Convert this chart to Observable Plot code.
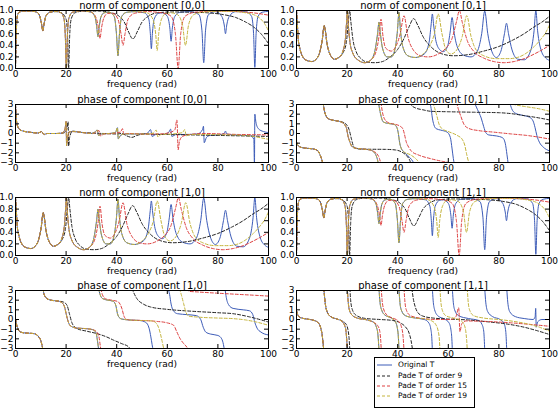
<!DOCTYPE html>
<html><head><meta charset="utf-8">
<script src="https://cdn.jsdelivr.net/npm/d3@7"></script>
<script src="https://cdn.jsdelivr.net/npm/@observablehq/plot@0.6"></script>
<style>
body{margin:0;background:#fff;}
#chart{position:relative;width:559px;height:408px;font-family:"DejaVu Sans",sans-serif;overflow:hidden;background:#fff;}
#chart svg.panel{position:absolute;}
#legend{position:absolute;left:374px;top:357px;width:101px;height:51px;box-sizing:border-box;border:1px solid #000;background:#fff;font-family:"DejaVu Sans",sans-serif;font-size:7.5px;}
#legend .row{position:absolute;left:2px;height:10px;display:flex;align-items:center;}
#legend .row span{margin-left:6px;white-space:nowrap;line-height:10px;}
</style></head><body><div id="chart"></div>
<script>
const xTicks=[0,20,40,60,80,100];
const normTicks=[0,0.2,0.4,0.6,0.8,1.0];
const phaseTicks=[-3,-2,-1,0,1,2,3];
const titles=["norm of component [0,0]","norm of component [0,1]","phase of component [0,0]","phase of component [0,1]","norm of component [1,0]","norm of component [1,1]","phase of component [1,0]","phase of component [1,1]"];
const xLabel="frequency (rad)";
const seriesNames=["Original T","Pade T of order 9","Pade T of order 15","Pade T of order 19"];
const seriesColors=["#3d5cb8","#222222","#dd4040","#c4b43c"];
const seriesDash=[null,"3,2","3,2","3,2"];

// ---- norm [0,0] (also [1,1]) ----
const norm00Orig=[[0,0],[0.3,0.6],[0.7,0.9],[1.5,0.97],[3,0.99],[6,0.99],[8.5,0.97],[9.6,0.9],[10.3,0.77],[10.8,0.65],[11.3,0.77],[12,0.9],[13.5,0.97],[16,0.985],[18,0.96],[19.2,0.85],[19.7,0.55],[20.1,0],[20.5,0.55],[21,0.85],[22.5,0.97],[26,0.995],[30,0.97],[31.5,0.88],[32.1,0.72],[32.6,0.55],[33.1,0.72],[33.7,0.88],[35,0.96],[37,0.97],[39,0.9],[39.9,0.6],[40.5,0.22],[41.1,0.6],[42,0.9],[44,0.97],[47,0.98],[51,0.96],[52.7,0.85],[53.3,0.6],[53.7,0.34],[54.1,0.6],[54.8,0.85],[56.5,0.95],[58,0.96],[60,0.9],[61,0.7],[61.5,0.47],[62,0.7],[63,0.9],[65,0.97],[69,0.98],[72.5,0.93],[73.7,0.65],[74.4,0.1],[75.1,0.65],[76.3,0.93],[79,0.98],[81.5,0.9],[82.5,0.75],[83,0.6],[83.5,0.75],[84.5,0.9],[87,0.98],[91,0.98],[93.3,0.9],[94.1,0.6],[94.6,0.02],[95.1,0.6],[95.9,0.9],[97.5,0.97],[100,0.985]];
const norm00P9=[[0,0],[0.3,0.6],[0.7,0.9],[1.5,0.97],[3,0.99],[6,0.99],[8.5,0.97],[9.6,0.9],[10.3,0.77],[10.8,0.65],[11.3,0.77],[12,0.9],[13.5,0.97],[16,0.98],[18.5,0.95],[20,0.85],[20.6,0.55],[21,0],[21.4,0.55],[22,0.85],[23.5,0.96],[27,0.99],[33,0.99],[38,0.96],[41,0.9],[43,0.8],[44.5,0.65],[46.4,0.51],[48.3,0.65],[50,0.8],[52.5,0.9],[56,0.96],[62,0.975],[70,0.97],[76,0.96],[82,0.93],[87,0.88],[91,0.8],[94,0.72],[97,0.6],[100,0.43]];
const norm00P15=[[0,0],[0.3,0.6],[0.7,0.9],[1.5,0.97],[3,0.99],[6,0.99],[8.5,0.97],[9.6,0.9],[10.3,0.77],[10.8,0.65],[11.3,0.77],[12,0.9],[13.5,0.97],[16,0.985],[18,0.96],[19.2,0.85],[19.7,0.55],[20.1,0],[20.5,0.55],[21,0.85],[22.5,0.97],[26,0.995],[30,0.97],[31.8,0.88],[32.8,0.7],[33.4,0.52],[34,0.7],[35,0.88],[36.5,0.95],[38.5,0.95],[40.5,0.85],[41.7,0.6],[42.5,0.4],[43.3,0.6],[44.5,0.85],[47,0.95],[52,0.98],[58,0.96],[61.5,0.9],[63.2,0.6],[64.3,0],[65.3,0.6],[67,0.9],[71,0.97],[80,0.99],[88,0.98],[94,0.96],[100,0.92]];
const norm00P19=[[0,0],[0.3,0.6],[0.7,0.9],[1.5,0.97],[3,0.99],[6,0.99],[8.5,0.97],[9.6,0.9],[10.3,0.77],[10.8,0.65],[11.3,0.77],[12,0.9],[13.5,0.97],[16,0.985],[18,0.96],[19.2,0.85],[19.7,0.55],[20.1,0],[20.5,0.55],[21,0.85],[22.5,0.97],[26,0.995],[30,0.97],[31.5,0.88],[32.1,0.72],[32.6,0.55],[33.1,0.72],[33.7,0.88],[35,0.96],[37,0.97],[39,0.9],[39.9,0.6],[40.5,0.22],[41.1,0.6],[42,0.9],[44,0.97],[48,0.98],[52,0.96],[54.3,0.85],[55.4,0.6],[56,0.31],[56.6,0.6],[57.7,0.85],[59.5,0.95],[61.5,0.96],[64,0.93],[66,0.75],[67.2,0.4],[68.4,0.75],[70.5,0.93],[74,0.97],[80,0.985],[86,0.985],[91,0.96],[94,0.93],[96.5,0.87],[98.5,0.77],[100,0.65]];

// ---- norm [0,1] (also [1,0]) ----
const norm01Orig=[[0,1],[0.3,0.8],[0.7,0.5],[1.3,0.35],[2.5,0.2],[4,0.14],[6,0.12],[8,0.17],[9.3,0.3],[10.2,0.5],[10.8,0.72],[11,0.74],[11.3,0.68],[12,0.45],[13,0.27],[15,0.16],[17,0.2],[18.5,0.32],[19.4,0.55],[19.8,0.8],[20.1,1],[20.4,0.8],[21,0.5],[22.2,0.27],[24.5,0.14],[27,0.1],[29.5,0.15],[31.2,0.35],[32.1,0.62],[32.6,0.8],[33.1,0.62],[34,0.35],[35.8,0.2],[37.5,0.2],[39,0.35],[39.9,0.65],[40.5,0.97],[41.1,0.65],[42,0.38],[44,0.22],[47,0.19],[50.5,0.25],[52.4,0.45],[53.2,0.75],[53.7,0.94],[54.2,0.75],[55,0.5],[56.5,0.33],[58,0.29],[59.7,0.38],[60.8,0.65],[61.5,0.88],[62.2,0.65],[63.5,0.38],[66,0.23],[69,0.2],[71.5,0.3],[73.2,0.6],[74.4,0.99],[75.6,0.6],[77,0.32],[79,0.19],[80.8,0.3],[82.2,0.6],[83,0.78],[83.8,0.6],[85.2,0.32],[87.5,0.16],[90,0.15],[92.5,0.3],[93.9,0.65],[94.6,1],[95.3,0.65],[96.8,0.3],[98.5,0.18],[100,0.14]];
const norm01P9=[[0,1],[0.3,0.8],[0.7,0.5],[1.3,0.35],[2.5,0.2],[4,0.14],[6,0.12],[8,0.17],[9.3,0.3],[10.2,0.5],[10.8,0.72],[11,0.74],[11.3,0.68],[12,0.45],[13,0.27],[15,0.16],[17,0.2],[18.5,0.28],[19.7,0.45],[20.5,0.8],[21,1],[21.5,0.8],[22.3,0.5],[23.5,0.3],[25.5,0.17],[28,0.11],[31,0.1],[34,0.12],[37,0.2],[40,0.33],[42.5,0.52],[44.5,0.72],[46.3,0.86],[48,0.74],[50,0.55],[53,0.38],[57,0.26],[62,0.22],[68,0.24],[74,0.3],[80,0.38],[85.5,0.49],[90,0.6],[94,0.72],[97,0.8],[100,0.9]];
const norm01P15=[[0,1],[0.3,0.8],[0.7,0.5],[1.3,0.35],[2.5,0.2],[4,0.14],[6,0.12],[8,0.17],[9.3,0.3],[10.2,0.5],[10.8,0.72],[11,0.74],[11.3,0.68],[12,0.45],[13,0.27],[15,0.16],[17,0.2],[18.5,0.32],[19.4,0.55],[19.8,0.8],[20.1,1],[20.4,0.8],[21,0.5],[22.2,0.27],[24.5,0.14],[27,0.1],[29.5,0.15],[31.5,0.3],[32.6,0.55],[33.4,0.85],[34.2,0.55],[35.3,0.35],[37.5,0.3],[39.5,0.4],[41,0.6],[42.5,0.91],[44,0.55],[46,0.33],[49,0.22],[52,0.2],[56,0.25],[59,0.35],[61.5,0.52],[63.3,0.82],[64.4,1],[65.5,0.8],[67.5,0.48],[70,0.3],[74,0.18],[78,0.12],[82,0.1],[86,0.12],[90,0.17],[94,0.25],[97,0.32],[100,0.4]];
const norm01P19=[[0,1],[0.3,0.8],[0.7,0.5],[1.3,0.35],[2.5,0.2],[4,0.14],[6,0.12],[8,0.17],[9.3,0.3],[10.2,0.5],[10.8,0.72],[11,0.74],[11.3,0.68],[12,0.45],[13,0.27],[15,0.16],[17,0.2],[18.5,0.32],[19.4,0.55],[19.8,0.8],[20.1,1],[20.4,0.8],[21,0.5],[22.2,0.27],[24.5,0.14],[27,0.1],[29.5,0.15],[31.2,0.35],[32.1,0.62],[32.6,0.8],[33.1,0.62],[34,0.35],[35.8,0.2],[37.5,0.2],[39,0.35],[39.9,0.65],[40.5,0.97],[41.1,0.65],[42,0.38],[44,0.22],[47,0.19],[50,0.25],[52.5,0.38],[54.5,0.6],[56,0.94],[57.5,0.6],[59,0.33],[61,0.25],[63.5,0.33],[65.5,0.55],[67.3,0.91],[69,0.55],[71,0.32],[74,0.22],[79,0.17],[84,0.17],[88,0.2],[91,0.27],[94,0.38],[96.5,0.5],[98.5,0.62],[100,0.75]];

// ---- phase [0,0] ----
const phase00Orig=[[0,3],[0.3,1.6],[0.7,0.85],[1.5,0.45],[3,0.25],[6,0.12],[9,0.05],[10.3,0.2],[10.8,0.05],[11.3,-0.1],[12.5,0],[16,0],[18.5,0.05],[19.6,0.5],[20,1.25],[20.2,-1.25],[20.6,-0.4],[21.5,0.2],[23,0.2],[27,0.08],[30.5,0],[32.3,0.35],[32.8,-0.2],[34,-0.05],[37,0],[39.5,0.1],[40.3,0.6],[40.6,-0.55],[41.5,-0.2],[43,-0.05],[47,-0.05],[52,0],[53.4,0.4],[54,-0.3],[55.5,-0.1],[58,-0.1],[60.5,0.1],[61.3,0.45],[61.8,-0.3],[63.5,-0.1],[67,-0.1],[72,-0.05],[73.9,0.4],[74.3,0.75],[74.6,-0.95],[75.5,-0.4],[77,-0.2],[80,-0.15],[82.5,0],[83,0.25],[83.5,-0.05],[86,-0.15],[90,-0.2],[93,-0.25],[94.2,-0.6],[94.45,-3.3],[94.6,2],[95,1.2],[96,0.5],[98,0.2],[100,0.1]];
const phase00P9=[[0,3],[0.3,1.6],[0.7,0.85],[1.5,0.45],[3,0.25],[6,0.12],[9,0.05],[10.3,0.2],[10.8,0.05],[11.3,-0.1],[12.5,0],[16,0],[19,0.05],[20.3,0.45],[20.8,1.2],[21,-1.3],[21.4,-0.4],[22.5,0.25],[25,0.15],[30,0.05],[35,0],[40,-0.05],[42,0],[44,-0.25],[46,-0.4],[48,-0.2],[51,-0.05],[55,-0.08],[60,-0.1],[70,-0.15],[80,-0.2],[90,-0.25],[100,-0.3]];
const phase00P15=[[0,3],[0.3,1.6],[0.7,0.85],[1.5,0.45],[3,0.25],[6,0.12],[9,0.05],[10.3,0.2],[10.8,0.05],[11.3,-0.1],[12.5,0],[16,0],[18.5,0.05],[19.6,0.5],[20,1.25],[20.2,-1.25],[20.6,-0.4],[21.5,0.2],[23,0.2],[27,0.08],[30.5,0],[33,0.3],[33.6,-0.25],[35,-0.05],[38,0],[41.5,0.15],[42.3,0.5],[42.8,-0.1],[44,0],[50,-0.05],[57,-0.05],[61,0.1],[63,0.4],[63.8,1.4],[64.3,-1.7],[64.8,-0.8],[66,-0.3],[69,-0.1],[75,0],[82,-0.05],[88,-0.1],[94,-0.12],[100,-0.15]];
const phase00P19=[[0,3],[0.3,1.6],[0.7,0.85],[1.5,0.45],[3,0.25],[6,0.12],[9,0.05],[10.3,0.2],[10.8,0.05],[11.3,-0.1],[12.5,0],[16,0],[18.5,0.05],[19.6,0.5],[20,1.25],[20.2,-1.25],[20.6,-0.4],[21.5,0.2],[23,0.2],[27,0.08],[30.5,0],[32.3,0.35],[32.8,-0.2],[34,-0.05],[37,0],[39.5,0.1],[40.3,0.6],[40.6,-0.55],[41.5,-0.2],[43,-0.05],[47,-0.05],[52,-0.05],[54.5,0.05],[55.6,0.35],[56.3,-0.35],[57.5,-0.1],[62,-0.05],[66,0.1],[66.9,0.4],[67.5,-0.25],[69,-0.1],[75,-0.1],[80,-0.12],[86,-0.15],[90,-0.2],[94,-0.3],[97,-0.45],[100,-0.6]];

// ---- phase [0,1] ----
const phase01Orig=[[0,-0.9],[0.5,-1.2],[1.5,-1.4],[3,-1.5],[5,-1.55],[7,-1.62],[8.5,-1.8],[9.3,-2.2],[10,-2.7],[10.5,-3.2],null,[10.5,3.2],[11,2.4],[11.7,1.8],[12.5,1.55],[14,1.4],[16,1.3],[18,1.15],[19.2,0.85],[19.8,0.5],[20.3,-0.2],[21,-0.8],[21.8,-1.3],[23,-1.5],[26,-1.6],[29,-1.7],[30.5,-1.9],[31.5,-2.3],[32,-2.7],[32.4,-3.2],null,[32.4,3.2],[33,2.3],[34.3,1.2],[36,1.05],[38.5,0.95],[39.7,0.6],[40.2,0.1],[40.8,-1],[41.5,-1.6],[42.5,-1.9],[44,-2.3],[45.5,-2.7],[46.7,-3.2],null,[52.7,3.2],[53.2,2.6],[53.7,1.6],[54.3,0.9],[55.2,0.5],[57,0.35],[59.5,0.15],[60.8,-0.4],[61.5,-1.6],[62,-2.6],[62.4,-3.2],null,[70.3,3.2],[71.5,2.5],[73,1.6],[74,0.7],[74.8,0.1],[76,-0.15],[79,-0.25],[81.5,-0.45],[82.5,-1],[83.2,-2.2],[83.7,-3.2],null,[84.3,3.2],[85,2.6],[86.5,2.1],[89,1.9],[92,1.7],[93.5,1.3],[94.3,0.6],[95,-0.2],[96,-0.9],[97.5,-1.4],[100,-1.8]];
const phase01P9=[[0,-0.9],[0.5,-1.2],[1.5,-1.4],[3,-1.5],[5,-1.55],[7,-1.62],[8.5,-1.8],[9.3,-2.2],[10,-2.7],[10.5,-3.2],null,[10.5,3.2],[11,2.4],[11.7,1.8],[12.5,1.55],[14,1.4],[16,1.3],[18,1.2],[19.8,0.9],[20.8,0.4],[21.7,-0.55],[22.5,-1.3],[23.5,-1.55],[26,-1.62],[30,-1.63],[35,-1.64],[39,-1.7],[41.5,-1.9],[43.5,-2.3],[44.8,-2.8],[45.3,-3.2],null,[44.9,3.2],[45.5,2.9],[47,2.65],[50,2.45],[53,2.3],[60,2.25],[70,2.2],[80,2.15],[85,2.05],[90,1.85],[95,1.65],[100,1.4]];
const phase01P15=[[0,-0.9],[0.5,-1.2],[1.5,-1.4],[3,-1.5],[5,-1.55],[7,-1.62],[8.5,-1.8],[9.3,-2.2],[10,-2.7],[10.5,-3.2],null,[10.5,3.2],[11,2.4],[11.7,1.8],[12.5,1.55],[14,1.4],[16,1.3],[18,1.15],[19.2,0.85],[19.8,0.5],[20.3,-0.2],[21,-0.8],[21.8,-1.3],[23,-1.5],[26,-1.6],[29,-1.7],[30.5,-1.85],[31.8,-2.1],[32.8,-2.6],[33.4,-3.2],null,[33.4,3.2],[33.9,2.3],[34.8,1.5],[36.5,1.1],[39,0.95],[41,0.75],[42,0.5],[42.6,0],[43.3,-0.8],[44.3,-1.4],[45.5,-1.85],[48,-2.2],[53,-2.6],[58,-2.9],[61,-3.05],[62.5,-3.2],null,[63.3,3.2],[64,2.5],[65,1.75],[66.3,0.9],[68.3,0.5],[72,0.3],[78,0.14],[85,-0.05],[91,-0.2],[100,-0.57]];
const phase01P19=[[0,-0.9],[0.5,-1.2],[1.5,-1.4],[3,-1.5],[5,-1.55],[7,-1.62],[8.5,-1.8],[9.3,-2.2],[10,-2.7],[10.5,-3.2],null,[10.5,3.2],[11,2.4],[11.7,1.8],[12.5,1.55],[14,1.4],[16,1.3],[18,1.15],[19.2,0.85],[19.8,0.5],[20.3,-0.2],[21,-0.8],[21.8,-1.3],[23,-1.5],[26,-1.6],[29,-1.7],[30.5,-1.9],[31.5,-2.3],[32,-2.7],[32.4,-3.2],null,[32.4,3.2],[33,2.3],[34.3,1.2],[36,1.05],[38.5,0.95],[39.7,0.6],[40.2,0.1],[40.8,-1],[41.5,-1.6],[42.5,-1.9],[45,-2.2],[47.5,-2.7],[49,-3.2],null,[53.8,3.2],[54.5,2.7],[55.5,1.8],[56.3,1],[57.5,0.5],[60,0.2],[63.5,-0.2],[65.5,-0.6],[66.5,-1.2],[67.3,-2.2],[68,-2.9],[68.5,-3.2],null,[83.5,3.2],[86,3],[90,2.8],[95,2.6],[100,2.3]];

// ---- phase [1,0] ----
const phase10Orig=[[0,0.1],[0.5,-0.6],[1,-1],[2,-1.3],[4,-1.4],[7,-1.45],[8.5,-1.6],[9.3,-1.85],[9.9,-2.1],[10.5,-2.7],[10.9,-3.2],null,[10.9,3.2],[11.3,2.6],[12.5,2.15],[14,2],[17,1.9],[18.5,1.7],[19.4,1.3],[20.1,0.5],[20.8,-0.2],[21.7,-0.65],[24,-0.88],[28,-0.95],[30.5,-1.05],[31.8,-1.35],[32.4,-2.2],[32.9,-3.2],null,[32.9,3.2],[33.4,2.6],[34.5,2.15],[36.5,2],[38.5,1.9],[39.6,1.5],[40.3,0.6],[41,0.2],[42,0.05],[45,-0.05],[49,-0.1],[51.5,-0.3],[52.8,-0.9],[53.5,-1.8],[54,-2.6],[54.4,-3.2],null,[60.3,3.2],[60.9,2.6],[61.5,1.6],[62.3,0.95],[64,0.6],[68,0.5],[71.5,0.4],[73.2,0],[74.2,-0.8],[75.2,-1.3],[77,-1.5],[80,-1.65],[81.5,-2],[82.2,-2.6],[82.6,-3.2],null,[82.8,3.2],[83.3,2.3],[84.3,1.5],[86,1.15],[90,1],[92.5,0.9],[93.8,0.5],[94.6,-0.3],[95.5,-0.9],[97,-1.3],[100,-1.6]];
const phase10P9=[[0,0.1],[0.5,-0.6],[1,-1],[2,-1.3],[4,-1.4],[7,-1.45],[8.5,-1.6],[9.3,-1.85],[9.9,-2.1],[10.5,-2.7],[10.9,-3.2],null,[10.9,3.2],[11.3,2.6],[12.5,2.15],[14,2],[17,1.9],[19,1.8],[20.4,1.45],[21.3,0.6],[22.4,-0.4],[24.3,-0.94],[28,-1.2],[32.2,-1.46],[36,-1.8],[38.8,-2.14],[42,-2.5],[44.7,-2.83],[45.8,-3.2],null,[46,3.2],[48,2.15],[50.5,1.6],[53.3,1.3],[60,1.05],[70,0.85],[80,0.7],[86,0.6],[92,0.3],[100,-0.26]];
const phase10P15=[[0,0.1],[0.5,-0.6],[1,-1],[2,-1.3],[4,-1.4],[7,-1.45],[8.5,-1.6],[9.3,-1.85],[9.9,-2.1],[10.5,-2.7],[10.9,-3.2],null,[10.9,3.2],[11.3,2.6],[12.5,2.15],[14,2],[17,1.9],[18.5,1.7],[19.4,1.3],[20.1,0.5],[20.8,-0.2],[21.7,-0.65],[24,-0.88],[28,-0.95],[30.5,-1.05],[32,-1.25],[33,-1.8],[33.5,-2.7],[33.8,-3.2],null,[33.8,3.2],[34.3,2.6],[35.5,2.15],[38,2],[40.5,1.85],[41.5,1.5],[42.1,1.1],[42.8,0.4],[43.4,0.1],[45,-0.05],[50,-0.1],[56,-0.2],[60,-0.35],[62.5,-0.6],[63.8,-1.3],[65.1,-2],[66.5,-2.5],[67.8,-2.9],[68.3,-3.2],null,[67.7,3.2],[68.5,2.92],[72,2.85],[80,2.72],[88,2.6],[95,2.5],[100,2.42]];
const phase10P19=[[0,0.1],[0.5,-0.6],[1,-1],[2,-1.3],[4,-1.4],[7,-1.45],[8.5,-1.6],[9.3,-1.85],[9.9,-2.1],[10.5,-2.7],[10.9,-3.2],null,[10.9,3.2],[11.3,2.6],[12.5,2.15],[14,2],[17,1.9],[18.5,1.7],[19.4,1.3],[20.1,0.5],[20.8,-0.2],[21.7,-0.65],[24,-0.88],[28,-0.95],[30.5,-1.05],[31.8,-1.35],[32.4,-2.2],[32.9,-3.2],null,[32.9,3.2],[33.4,2.6],[34.5,2.15],[36.5,2],[38.5,1.9],[39.6,1.5],[40.3,0.6],[41,0.2],[42,0.05],[45,-0.05],[49,-0.1],[52,-0.12],[54,-0.15],[55.3,-0.3],[56.5,-0.8],[57.3,-1.5],[58,-2.3],[58.6,-3],[58.9,-3.2],null,[64.8,3.2],[65.5,2.6],[66.5,1.6],[67.3,0.8],[68.5,0.35],[72,0.25],[80,0.15],[86,0.09],[91,-0.05],[95,-0.25],[100,-0.6]];

// ---- phase [1,1] ----
const phase11Orig=[[0,0.9],[0.5,0.5],[1.5,0.2],[4,0.05],[7,-0.1],[8.6,-0.35],[9.6,-0.9],[10.2,-1.7],[10.6,-2.7],[10.8,-3.2],null,[10.8,3.2],[11,2.6],[11.4,1.6],[12.1,0.8],[13.5,0.3],[16,0.05],[18,-0.2],[19,-0.6],[19.6,-1.3],[19.95,-2.5],[20.1,-3.2],null,[20.1,3.2],[20.3,2.3],[20.8,1.1],[21.8,0.5],[24,0.15],[28,-0.05],[30.5,-0.3],[31.6,-0.8],[32.2,-1.6],[32.6,-3.2],null,[32.6,3.2],[33,1.8],[33.7,0.95],[35,0.45],[37.5,0.15],[39,-0.2],[39.8,-0.8],[40.3,-2],[40.5,-3.2],null,[40.5,3.2],[40.8,2],[41.4,1],[43,0.4],[47,0.15],[50.5,0],[52.3,-0.35],[53.1,-1],[53.5,-2],[53.7,-3.2],null,[53.7,3.2],[54,2],[54.6,1],[56,0.35],[58.5,0.05],[60.3,-0.35],[61,-1],[61.4,-2],[61.6,-3.2],null,[61.6,3.2],[61.9,2],[62.5,1],[64,0.4],[68,0.1],[72,-0.1],[73.3,-0.5],[74,-1.2],[74.4,-3.2],null,[74.4,3.2],[74.8,1.8],[75.6,0.8],[77.5,0.3],[80.5,0],[82,-0.4],[82.7,-1.2],[83.1,-3.2],null,[83.1,3.2],[83.5,1.8],[84.3,0.8],[86.5,0.3],[90,0.1],[93.5,0],[94.3,0.25],[94.55,1.15],[94.75,-0.8],[95.3,-0.25],[97,0],[100,0]];
const phase11P9=[[0,0.9],[0.5,0.5],[1.5,0.2],[4,0.05],[7,-0.1],[8.6,-0.35],[9.6,-0.9],[10.2,-1.7],[10.6,-2.7],[10.8,-3.2],null,[10.8,3.2],[11,2.6],[11.4,1.6],[12.1,0.8],[13.5,0.3],[16,0.05],[18,-0.15],[19.5,-0.45],[20.3,-1],[20.8,-2],[21.1,-3.2],null,[21.1,3.2],[21.4,2],[22.1,1],[23.5,0.45],[27,0.12],[33,0],[38,-0.1],[41,-0.35],[43,-0.75],[44.5,-1.4],[45.3,-2.2],[45.9,-3.2],null,[45.6,3.2],[46.2,2.1],[47,1.25],[48,0.7],[50,0.35],[54,0.15],[60,0.05],[68,-0.05],[76,-0.25],[84,-0.5],[90,-0.8],[95,-1.15],[100,-1.55]];
const phase11P15=[[0,0.9],[0.5,0.5],[1.5,0.2],[4,0.05],[7,-0.1],[8.6,-0.35],[9.6,-0.9],[10.2,-1.7],[10.6,-2.7],[10.8,-3.2],null,[10.8,3.2],[11,2.6],[11.4,1.6],[12.1,0.8],[13.5,0.3],[16,0.05],[18,-0.2],[19,-0.6],[19.6,-1.3],[19.95,-2.5],[20.1,-3.2],null,[20.1,3.2],[20.3,2.3],[20.8,1.1],[21.8,0.5],[24,0.15],[28,-0.05],[30.5,-0.3],[32,-0.6],[32.9,-1.2],[33.3,-2.2],[33.5,-3.2],null,[33.5,3.2],[33.8,2.1],[34.4,1.1],[35.8,0.45],[38,0.15],[40.2,-0.15],[41.4,-0.7],[42.1,-1.7],[42.5,-3.2],null,[42.5,3.2],[42.8,2],[43.4,1],[45,0.4],[50,0.1],[56,0],[61,0],[63,0.3],[64.1,1.2],[64.6,-1.25],[65.3,-0.45],[67,-0.15],[75,-0.2],[85,-0.35],[92,-0.5],[100,-0.7]];
const phase11P19=[[0,0.9],[0.5,0.5],[1.5,0.2],[4,0.05],[7,-0.1],[8.6,-0.35],[9.6,-0.9],[10.2,-1.7],[10.6,-2.7],[10.8,-3.2],null,[10.8,3.2],[11,2.6],[11.4,1.6],[12.1,0.8],[13.5,0.3],[16,0.05],[18,-0.2],[19,-0.6],[19.6,-1.3],[19.95,-2.5],[20.1,-3.2],null,[20.1,3.2],[20.3,2.3],[20.8,1.1],[21.8,0.5],[24,0.15],[28,-0.05],[30.5,-0.3],[31.6,-0.8],[32.2,-1.6],[32.6,-3.2],null,[32.6,3.2],[33,1.8],[33.7,0.95],[35,0.45],[37.5,0.15],[39,-0.2],[39.8,-0.8],[40.3,-2],[40.5,-3.2],null,[40.5,3.2],[40.8,2],[41.4,1],[43,0.4],[47,0.15],[51,0.05],[53.5,-0.15],[55,-0.5],[56,-1.2],[56.5,-2.2],[56.7,-3.2],null,[56.7,3.2],[57,2],[57.6,1],[59,0.4],[62,0.15],[64.5,-0.05],[66,-0.4],[66.9,-1.2],[67.3,-2.3],[67.5,-3.2],null,[67.5,3.2],[67.8,2],[68.4,1],[70,0.4],[74,0.15],[80,0],[86,-0.2],[92,-0.5],[96,-0.8],[100,-1.2]];

const panels=[
  {title:titles[0],kind:"norm",series:[norm00Orig,norm00P9,norm00P15,norm00P19],xlabel:true},
  {title:titles[1],kind:"norm",series:[norm01Orig,norm01P9,norm01P15,norm01P19],xlabel:true},
  {title:titles[2],kind:"phase",series:[phase00Orig,phase00P9,phase00P15,phase00P19],xlabel:true},
  {title:titles[3],kind:"phase",series:[phase01Orig,phase01P9,phase01P15,phase01P19],xlabel:true},
  {title:titles[4],kind:"norm",series:[norm01Orig,norm01P9,norm01P15,norm01P19],xlabel:true},
  {title:titles[5],kind:"norm",series:[norm00Orig,norm00P9,norm00P15,norm00P19],xlabel:true},
  {title:titles[6],kind:"phase",series:[phase10Orig,phase10P9,phase10P15,phase10P19],xlabel:true},
  {title:titles[7],kind:"phase",series:[phase11Orig,phase11P9,phase11P15,phase11P19],xlabel:false}
];

const chart=document.getElementById("chart");
const rowTops=[0,94,187,280];
const PW=253, PH=58, MT=10, MB=25, TK=4;

panels.forEach((p,idx)=>{
  const col=idx%2, row=Math.floor(idx/2);
  const W=col===0?280:279;
  const mL=col===0?15:16;
  const mR=W-mL-PW;
  const yT=p.kind==="norm"?normTicks:phaseTicks;
  const yDom=p.kind==="norm"?[0,1]:[-3,3];
  const fmt=p.kind==="norm"?d3.format(".1f"):d3.format("d");
  const tickStyle={stroke:"#000",strokeOpacity:1,strokeWidth:1};
  const marks=[];
  p.series.forEach((data,i)=>{
    marks.push(Plot.line(data,{x:d=>d?d[0]:undefined,y:d=>d?d[1]:undefined,stroke:seriesColors[i],strokeWidth:1,strokeDasharray:seriesDash[i]||undefined,curve:"monotone-x",clip:true}));
  });
  marks.push(
    Plot.gridX(xTicks,{...tickStyle,insetTop:PH-TK}),
    Plot.gridX(xTicks,{...tickStyle,insetBottom:PH-TK}),
    Plot.gridY(yT,{...tickStyle,insetRight:PW-TK}),
    Plot.gridY(yT,{...tickStyle,insetLeft:PW-TK}),
    Plot.axisX({ticks:xTicks,tickSize:0,tickPadding:2,label:null,fontSize:9,tickFormat:d3.format("d")}),
    Plot.axisY({ticks:yT,tickSize:0,tickPadding:2,label:null,fontSize:9,tickFormat:fmt}),
    Plot.frame({stroke:"#000",strokeWidth:1}),
    Plot.text([p.title],{text:d=>d,frameAnchor:"top",dy:-2,lineAnchor:"bottom",fontSize:10,fill:"#000"})
  );
  if(p.xlabel) marks.push(Plot.text([xLabel],{text:d=>d,frameAnchor:"bottom",dy:18,lineAnchor:"bottom",fontSize:9,fill:"#000"}));
  const svg=Plot.plot({
    width:W,height:MT+PH+MB,
    marginLeft:mL,marginRight:mR,marginTop:MT,marginBottom:MB,
    x:{domain:[0,100]},
    y:{domain:yDom},
    style:{fontFamily:"DejaVu Sans",fontSize:"9px",background:"transparent",overflow:"visible",color:"#000"},
    marks
  });
  svg.classList.add("panel");
  svg.style.left=(col===0?0:280)+"px";
  svg.style.top=rowTops[row]+"px";
  chart.appendChild(svg);
});

// legend
const legend=document.createElement("div");
legend.id="legend";
seriesNames.forEach((name,i)=>{
  const row=document.createElement("div");
  row.className="row";
  row.style.top=(2.3+i*10.3)+"px";
  const ns="http://www.w3.org/2000/svg";
  const s=document.createElementNS(ns,"svg");
  s.setAttribute("width","15");s.setAttribute("height","4");
  const l=document.createElementNS(ns,"line");
  l.setAttribute("x1","0");l.setAttribute("x2","15");l.setAttribute("y1","2");l.setAttribute("y2","2");
  l.setAttribute("stroke",seriesColors[i]);l.setAttribute("stroke-width","1");
  if(seriesDash[i]) l.setAttribute("stroke-dasharray",seriesDash[i]);
  s.appendChild(l);
  const t=document.createElement("span");
  t.textContent=name;
  row.appendChild(s);row.appendChild(t);
  legend.appendChild(row);
});
chart.appendChild(legend);
</script></body></html>
